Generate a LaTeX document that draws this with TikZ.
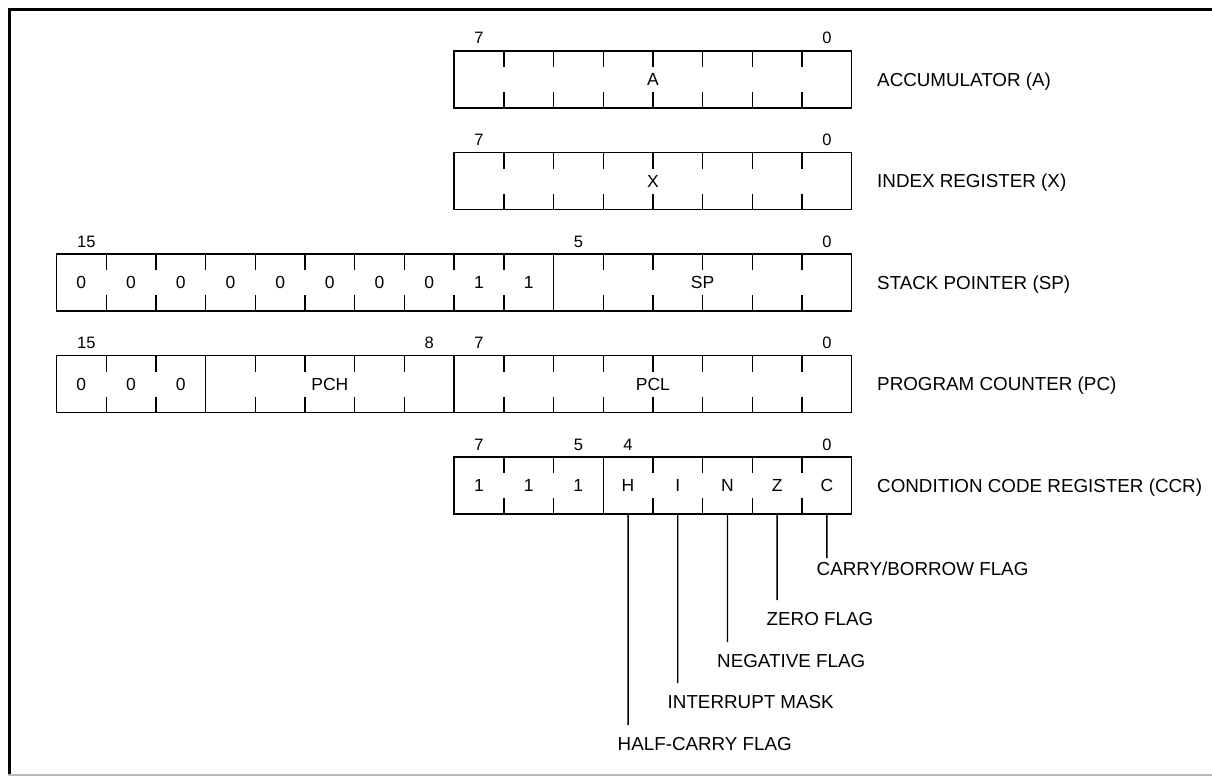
\documentclass[tikz,border=0pt]{standalone}
\usepackage{fontspec}
\setmainfont{Liberation Sans}
\begin{document}
\begin{tikzpicture}[x=1pt,y=-1pt]
\useasboundingbox (0,0) rectangle (1212,776);
\tikzset{
  regbox/.style={draw, line width=1.4pt, rectangle, inner sep=0pt, minimum height=57pt},
  cell/.style={rectangle, inner sep=0pt, minimum width=49.7pt, minimum height=57pt, font=\fontsize{17.5}{20}\selectfont},
  bitno/.style={anchor=base, inner sep=0pt, font=\fontsize{16.5}{19}\selectfont},
  reglabel/.style={anchor=base west, inner sep=0pt, font=\fontsize{18.8}{22}\selectfont},
  flaglabel/.style={anchor=base west, inner sep=0pt, font=\fontsize{18.8}{22}\selectfont},
  tickline/.style={line width=1.4pt},
  leader/.style={line width=1.4pt},
  framebar/.style={line width=3.5pt},
}
\def\cw{49.7}
\def\lx{56.5}
% frame
\draw[framebar] (7.5,9.5) -- (1212,9.5);
\draw[framebar, line width=3pt] (9,8) -- (9,776);
\draw[gray!55, line width=1.5pt] (8,775.2) -- (1212,775.2);

% register boxes
\node[regbox, minimum width=397.6pt] (rA) at (652.9,79.5) {};
\node[regbox, minimum width=397.6pt] (rX) at (652.9,181) {};
\node[regbox, minimum width=795.2pt] (rSP) at (454.1,282.5) {};
\node[regbox, minimum width=795.2pt] (rPC) at (454.1,384) {};
\node[regbox, minimum width=397.6pt] (rCCR) at (652.9,485.5) {};

% ticks
\newcommand{\shortticks}[3]{% list, top, bottom
  \foreach \k in {#1} {
    \pgfmathsetmacro{\xx}{\lx+\k*\cw}
    \draw[tickline] (\xx,#2) -- (\xx,#2+16);
    \draw[tickline] (\xx,#3-16) -- (\xx,#3);
  }}
\newcommand{\fullticks}[3]{%
  \foreach \k in {#1} {
    \pgfmathsetmacro{\xx}{\lx+\k*\cw}
    \draw[tickline] (\xx,#2) -- (\xx,#3);
  }}
\shortticks{9,...,15}{51}{108}
\shortticks{9,...,15}{152.5}{209.5}
\shortticks{1,...,9,11,12,13,14,15}{254}{311}
\fullticks{10}{254}{311}
\shortticks{1,2,4,5,6,7,9,10,11,12,13,14,15}{355.5}{412.5}
\fullticks{3,8}{355.5}{412.5}
\shortticks{9,10,12,13,14,15}{457}{514}
\fullticks{11}{457}{514}

% bit numbers
\newcommand{\bitnum}[3]{% cell index, top, text
  \pgfmathsetmacro{\xx}{\lx+(#1+0.5)*\cw}
  \node[bitno] at (\xx,#2-7) {#3};}
\bitnum{8}{51}{7}\bitnum{15}{51}{0}
\bitnum{8}{152.5}{7}\bitnum{15}{152.5}{0}
\bitnum{0.1}{254}{15}\bitnum{10}{254}{5}\bitnum{15}{254}{0}
\bitnum{0.1}{355.5}{15}\bitnum{7}{355.5}{8}\bitnum{8}{355.5}{7}\bitnum{15}{355.5}{0}
\bitnum{8}{457}{7}\bitnum{10}{457}{5}\bitnum{11}{457}{4}\bitnum{15}{457}{0}

% cell contents
\node[cell] (tA) at (rA.center) {A};
\node[cell] (tX) at (rX.center) {X};
\foreach \k/\v in {0/0,1/0,2/0,3/0,4/0,5/0,6/0,7/0,8/1,9/1} {
  \pgfmathsetmacro{\xx}{\lx+(\k+0.5)*\cw}
  \node[cell] (sp\k) at (\xx,282.5) {\v};
}
\node[cell] (tSP) at (702.6,282.5) {SP};
\foreach \k in {0,1,2} {
  \pgfmathsetmacro{\xx}{\lx+(\k+0.5)*\cw}
  \node[cell] (pc\k) at (\xx,384) {0};
}
\node[cell] (tPCH) at (329.85,384) {PCH};
\node[cell] (tPCL) at (652.9,384) {PCL};
\foreach \k/\v in {8/1,9/1,10/1,11/H,12/I,13/N,14/Z,15/C} {
  \pgfmathsetmacro{\xx}{\lx+(\k+0.5)*\cw}
  \node[cell] (cc\k) at (\xx,485.5) {\v};
}

% register names
\node[reglabel] (nA) at (877,86) {ACCUMULATOR (A)};
\node[reglabel] (nX) at (877,187.5) {INDEX REGISTER (X)};
\node[reglabel] (nSP) at (877,289) {STACK POINTER (SP)};
\node[reglabel] (nPC) at (877,390.5) {PROGRAM COUNTER (PC)};
\node[reglabel] (nCCR) at (877,492) {CONDITION CODE REGISTER (CCR)};

% flag leaders and labels
\coordinate (eC) at (826.85,558);
\coordinate (eZ) at (777.15,600);
\coordinate (eN) at (727.45,642);
\coordinate (eI) at (677.75,683);
\coordinate (eH) at (628.05,725);
\draw[leader] (cc15.south) -- (eC);
\draw[leader] (cc14.south) -- (eZ);
\draw[leader] (cc13.south) -- (eN);
\draw[leader] (cc12.south) -- (eI);
\draw[leader] (cc11.south) -- (eH);
\node[flaglabel] (fC) at (816.5,575) {CARRY/BORROW FLAG};
\node[flaglabel] (fZ) at (766.5,625) {ZERO FLAG};
\node[flaglabel] (fN) at (717,667) {NEGATIVE FLAG};
\node[flaglabel] (fI) at (667.5,708) {INTERRUPT MASK};
\node[flaglabel] (fH) at (617.5,750) {HALF-CARRY FLAG};
\end{tikzpicture}
\end{document}
